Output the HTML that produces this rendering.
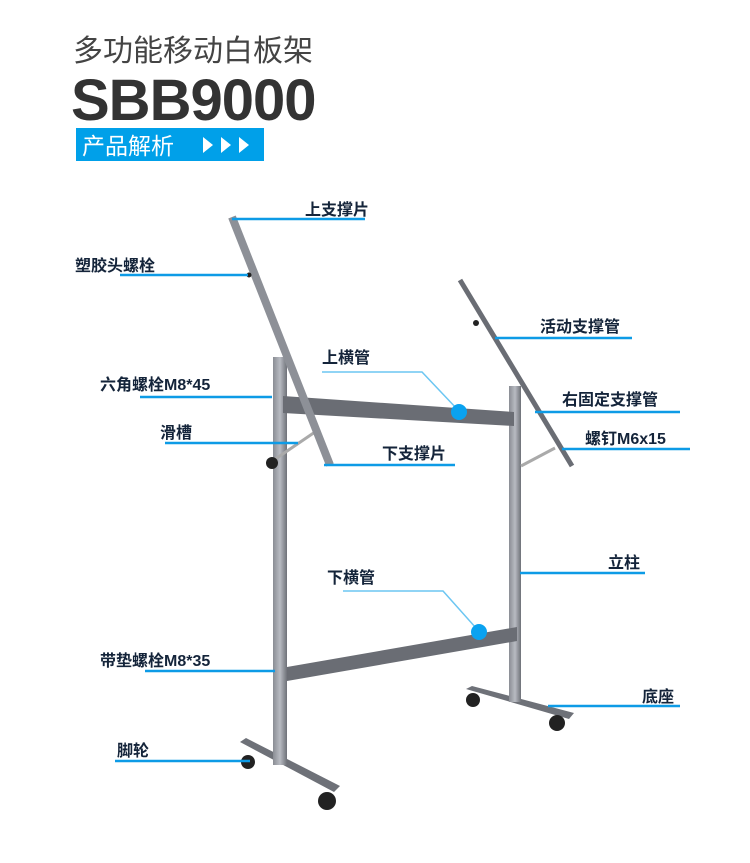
<!DOCTYPE html>
<html><head><meta charset="utf-8"><style>
body{margin:0;background:#fff;width:750px;height:863px;overflow:hidden;font-family:"Liberation Sans","Noto Sans CJK SC",sans-serif}
</style></head><body>
<svg width="750" height="863" xmlns="http://www.w3.org/2000/svg" style="position:absolute;left:0;top:0">
<defs>
<linearGradient id="g" x1="0" x2="1"><stop offset="0" stop-color="#8a8d94"/><stop offset=".5" stop-color="#b8bbc2"/><stop offset="1" stop-color="#6e7178"/></linearGradient>
</defs>
<text x="73" y="61" font-size="30" fill="#444" font-family="Liberation Sans,Noto Sans CJK SC,sans-serif">多功能移动白板架</text>
<text x="71" y="120" font-size="58" font-weight="bold" fill="#333" font-family="Liberation Sans,sans-serif" letter-spacing="-1">SBB9000</text>
<rect x="76" y="128" width="188" height="33" fill="#00a0e9"/>
<text x="82" y="154" font-size="23" fill="#fff" font-family="Liberation Sans,Noto Sans CJK SC,sans-serif">产品解析</text>
<polygon points="203,137 213,145 203,153" fill="#fff"/><polygon points="221,137 231,145 221,153" fill="#fff"/><polygon points="239,137 249,145 239,153" fill="#fff"/>

<polygon points="240,742 246,738 340,786 334,792" fill="#6e7178"/>
<circle cx="248" cy="762" r="7" fill="#222"/><circle cx="327" cy="801" r="9" fill="#222"/>
<polygon points="466,689 472,686 574,713 569,719" fill="#6e7178"/>
<circle cx="473" cy="700" r="7" fill="#222"/><circle cx="557" cy="723" r="8" fill="#222"/>
<rect x="273" y="357" width="14" height="408" fill="url(#g)"/>
<rect x="509" y="386" width="12" height="316" fill="url(#g)"/>
<polygon points="283,396 514,412 514,426 283,413" fill="#6a6d74"/>
<polygon points="287,667 517,627 517,641 287,681" fill="#6a6d74"/>
<line x1="271" y1="462" x2="315" y2="432" stroke="#aaa" stroke-width="3"/>
<circle cx="272" cy="463" r="6" fill="#222"/>
<line x1="521" y1="466" x2="555" y2="448" stroke="#aaa" stroke-width="3"/>
<line x1="232" y1="217" x2="330" y2="465" stroke="#8d9097" stroke-width="8"/>
<line x1="460" y1="280" x2="572" y2="466" stroke="#6a6d74" stroke-width="5"/>
<circle cx="476" cy="323" r="3" fill="#222"/>
<circle cx="249" cy="275" r="2.5" fill="#222"/>

<g stroke="#0d9be6" stroke-width="2.5">
<line x1="232" y1="219" x2="365" y2="219"/>
<line x1="120" y1="275" x2="248" y2="275"/>
<line x1="495" y1="338" x2="632" y2="338"/>
<line x1="140" y1="397" x2="272" y2="397"/>
<line x1="535" y1="412" x2="680" y2="412"/>
<line x1="165" y1="443" x2="298" y2="443"/>
<line x1="324" y1="465" x2="455" y2="465"/>
<line x1="562" y1="449" x2="690" y2="449"/>
<line x1="520" y1="573" x2="645" y2="573"/>
<line x1="145" y1="671" x2="275" y2="671"/>
<line x1="548" y1="706" x2="680" y2="706"/>
<line x1="115" y1="761" x2="250" y2="761"/>
</g>
<g stroke="#6cc6f2" stroke-width="1.5" fill="none">
<polyline points="322,372 422,372 458,410"/>
<polyline points="343,591 443,591 476,628"/>
</g>
<circle cx="459" cy="412" r="8" fill="#0aa2f0"/>
<circle cx="479" cy="632" r="8" fill="#0aa2f0"/>

<g font-size="16" font-weight="bold" fill="#14243a" font-family="Liberation Sans,Noto Sans CJK SC,sans-serif">
<text x="305" y="215">上支撑片</text>
<text x="75" y="271">塑胶头螺栓</text>
<text x="540" y="332">活动支撑管</text>
<text x="322" y="363">上横管</text>
<text x="100" y="390">六角螺栓M8*45</text>
<text x="562" y="405">右固定支撑管</text>
<text x="160" y="438">滑槽</text>
<text x="382" y="459">下支撑片</text>
<text x="585" y="444">螺钉M6x15</text>
<text x="608" y="568">立柱</text>
<text x="327" y="583">下横管</text>
<text x="100" y="666">带垫螺栓M8*35</text>
<text x="642" y="702">底座</text>
<text x="117" y="756">脚轮</text>
</g>
</svg>
</body></html>
